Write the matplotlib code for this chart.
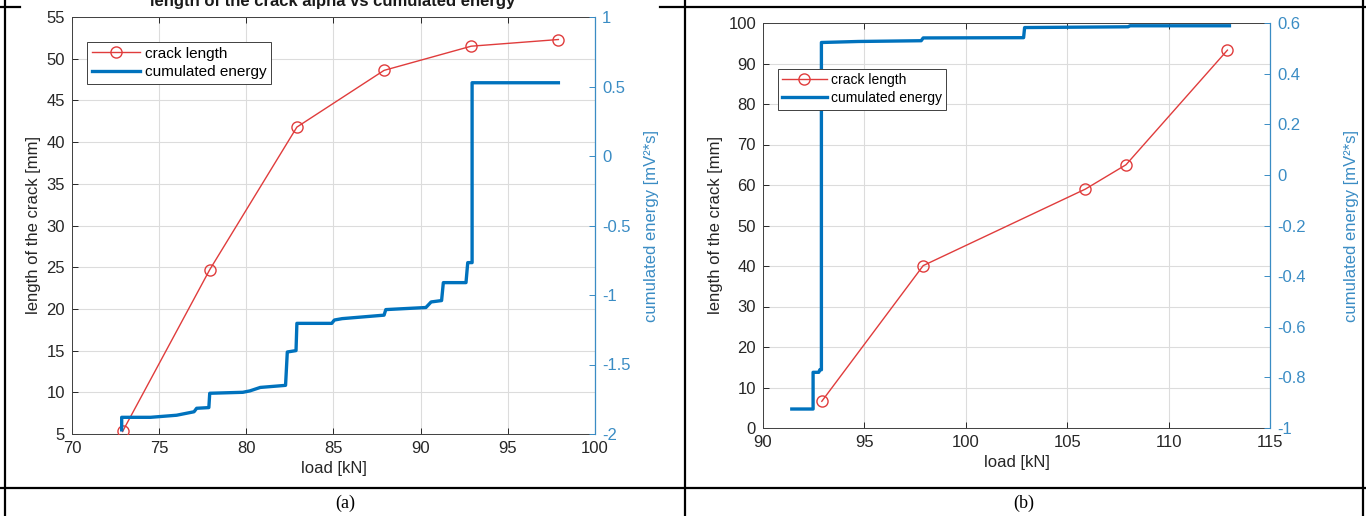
import matplotlib.pyplot as plt
from matplotlib.lines import Line2D

plt.rcParams['font.family'] = ['Liberation Sans', 'DejaVu Sans']

# --- panel (a) data ---
load_a = [72.9, 77.9, 82.9, 87.9, 92.9, 97.9]
crack_a = [5.3, 24.7, 41.8, 48.6, 51.5, 52.3]

energy_load_a = [72.85, 72.85, 74.5, 76.0, 77.0, 77.15, 77.85, 77.9, 79.8, 80.2, 80.8,
                 82.25, 82.35, 82.85, 82.9, 84.9, 85.05, 85.5, 87.9, 88.0, 90.3, 90.6,
                 91.2, 91.3, 92.6, 92.7, 92.95, 92.95, 97.9]
energy_a = [-1.97, -1.88, -1.88, -1.865, -1.84, -1.815, -1.81, -1.707, -1.70, -1.69, -1.665,
            -1.65, -1.41, -1.40, -1.204, -1.204, -1.18, -1.17, -1.145, -1.105, -1.09, -1.05,
            -1.04, -0.911, -0.911, -0.767, -0.767, 0.527, 0.527]

# --- panel (b) data ---
load_b = [92.9, 97.9, 105.9, 107.9, 112.9]
crack_b = [6.6, 40.1, 59.0, 65.0, 93.3]

energy_load_b = [91.42, 92.47, 92.47, 92.75, 92.8, 92.88, 92.88, 94.7, 97.8, 97.9,
                 102.85, 102.9, 108.0, 108.1, 113.0]
energy_b = [-0.925, -0.925, -0.78, -0.78, -0.77, -0.77, 0.523, 0.527, 0.53, 0.541,
            0.542, 0.582, 0.585, 0.589, 0.589]

red = '#e03c3c'
blue = '#0072bd'
rblue = '#3a8cc4'
dark = '#404040'
W, H = 1366, 516

fig = plt.figure(figsize=(13.66, 5.16), dpi=100)


def panel(rect, lx, ly, ex, ey, xlim, xt, ylim, yt, elim, et, leg_loc, leg_fs, fs, rpad):
    ax = fig.add_axes(rect)
    ax.set_xlim(xlim)
    ax.set_ylim(ylim)
    ax.set_xticks(xt)
    ax.set_yticks(yt)
    ax.grid(True, color='#dcdcdc', linewidth=0.8)
    ax.set_axisbelow(True)
    ax.tick_params(direction='in', length=4, width=0.7, colors='#262626',
                   labelsize=fs, top=True, pad=5)
    for s in ['left', 'bottom', 'top']:
        ax.spines[s].set_color(dark)
        ax.spines[s].set_linewidth(0.7)
    ax.spines['right'].set_visible(False)
    ax.set_xlabel('load [kN]', fontsize=fs, color='#262626', labelpad=4)
    ax.set_ylabel('length of the crack [mm]', fontsize=fs, color='#262626', labelpad=4)
    ax.plot(lx, ly, '-o', color=red, lw=1.0, ms=8, mfc='none', mew=1.0, zorder=3)

    ax2 = ax.twinx()
    ax2.set_ylim(elim)
    ax2.set_yticks(et)
    ax2.set_yticklabels([('%g' % v) for v in et])
    ax2.plot(ex, ey, '-', color=blue, lw=2.4, zorder=2)
    ax2.tick_params(direction='in', length=4, width=0.7, colors=rblue,
                    labelsize=fs, pad=5)
    ax2.spines['right'].set_color(rblue)
    ax2.spines['right'].set_linewidth(0.9)
    for s in ['left', 'bottom', 'top']:
        ax2.spines[s].set_visible(False)
    ax2.set_ylabel('cumulated energy [mV²*s]', fontsize=fs, color=rblue, labelpad=rpad)

    handles = [Line2D([], [], color=red, lw=1.0, marker='o', ms=8, mfc='none'),
               Line2D([], [], color=blue, lw=2.4)]
    leg = ax2.legend(handles, ['crack length', 'cumulated energy'], loc='upper left',
                     bbox_to_anchor=leg_loc, fontsize=leg_fs, frameon=True,
                     fancybox=False, framealpha=1, edgecolor=dark, borderpad=0.3,
                     handlelength=3.2, handletextpad=0.3, labelspacing=0.3,
                     borderaxespad=0)
    leg.get_frame().set_linewidth(0.7)
    return ax, ax2


# axes rectangles from pixel positions
a_rect = [72 / W, (H - 434) / H, (595 - 72) / W, (434 - 17) / H]
b_rect = [763 / W, (H - 428) / H, (1270 - 763) / W, (428 - 23) / H]

axa, axa2 = panel(a_rect, load_a, crack_a, energy_load_a, energy_a,
                  (70, 100), range(70, 101, 5), (5, 55), range(5, 56, 5),
                  (-2, 1), [-2, -1.5, -1, -0.5, 0, 0.5, 1],
                  ((87 - 72) / 523, 1 - (42 - 17) / 417), 11, 12, 10)
axb, axb2 = panel(b_rect, load_b, crack_b, energy_load_b, energy_b,
                  (90, 115), range(90, 116, 5), (0, 100), range(0, 101, 10),
                  (-1, 0.6), [-1, -0.8, -0.6, -0.4, -0.2, 0, 0.2, 0.4, 0.6],
                  ((778 - 763) / 507, 1 - (69 - 23) / 405), 10, 12, 28)

# cropped title remnant at the top of panel (a)
fig.text(333 / W, 1 - 6 / H, 'length of the crack alpha vs cumulated energy',
         ha='center', va='baseline', fontsize=12, fontweight='bold', color='#1a1a1a')

# table borders
def hline(y, x0, x1):
    fig.add_artist(Line2D([x0 / W, x1 / W], [1 - y / H, 1 - y / H], color='black', lw=1.6))


def vline(x, y0, y1):
    fig.add_artist(Line2D([x / W, x / W], [1 - y0 / H, 1 - y1 / H], color='black', lw=1.6))


hline(7, 0, 20)
hline(7, 660, 1366)
hline(488, 0, 1366)
vline(5, 0, 516)
vline(685, 0, 516)
vline(1363, 0, 516)

fig.text(345 / W, 1 - 503 / H, '(a)', ha='center', va='center', fontsize=13,
         family=['Liberation Serif', 'DejaVu Serif'])
fig.text(1024 / W, 1 - 503 / H, '(b)', ha='center', va='center', fontsize=13,
         family=['Liberation Serif', 'DejaVu Serif'])

fig.savefig('out.png', dpi=100)
